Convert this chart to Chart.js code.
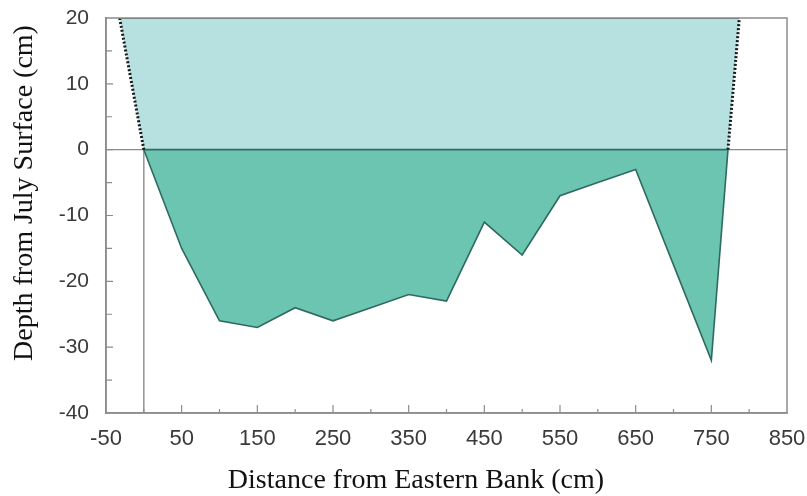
<!DOCTYPE html>
<html>
<head>
<meta charset="utf-8">
<script src="https://cdn.jsdelivr.net/npm/chart.js@4/dist/chart.umd.min.js"></script>
<style>
  html, body { margin: 0; padding: 0; background: #ffffff; }
  #wrap { width: 807px; height: 496px; }
</style>
</head>
<body>
<div id="wrap"><canvas id="c" width="807" height="496"></canvas></div>
<script>
// Stream cross-section: bed profile and July water surface
const bedDistance = [0, 50, 100, 150, 200, 250, 300, 350, 400, 450, 500, 550, 600, 650, 700, 750, 772];
const bedDepth    = [0, -15, -26, -27, -24, -26, -24, -22, -23, -11, -16, -7, -5, -3, -17.5, -32, 0];

// Water surface envelope (banks sloping up to the +20 cm level)
const surfaceDistance = [-32, 0, 772, 787];
const surfaceDepth    = [20, 0, 0, 20];

const xTickValues = [-50, 50, 150, 250, 350, 450, 550, 650, 750, 850];
const yTickValues = [-40, -30, -20, -10, 0, 10, 20];

const xTitle = 'Distance from Eastern Bank (cm)';
const yTitle = 'Depth from July Surface (cm)';

const toPoints = (xs, ys) => xs.map((x, i) => ({ x: x, y: ys[i] }));
const pick = (idx) => toPoints(idx.map(i => surfaceDistance[i]), idx.map(i => surfaceDepth[i]));
const last = surfaceDistance.length - 1;

// Reference lines at distance 0 and depth 0
const zeroDepthLine = toPoints([xTickValues[0], xTickValues[xTickValues.length - 1]], [0, 0]);
const zeroDistanceLine = toPoints([0, 0], [yTickValues[0], 0]);

const AXIS_GREY = '#8c8c8c';

const lineSet = (data, color, width, dash, order) => ({
  data: data,
  fill: false,
  borderColor: color,
  borderWidth: width,
  borderDash: dash,
  pointRadius: 0,
  tension: 0,
  order: order
});

// Frame, inward ticks and axis titles
const framePlugin = {
  id: 'frame',
  afterDraw(chart) {
    const { ctx, chartArea: a, scales } = chart;
    const xs = scales.x, ys = scales.y;
    ctx.save();
    ctx.strokeStyle = AXIS_GREY;
    ctx.lineWidth = 1.5;
    ctx.strokeRect(a.left, a.top, a.right - a.left, a.bottom - a.top);

    ctx.lineWidth = 1.2;
    ctx.beginPath();
    // x axis: major at labelled values, minor halfway between them
    for (let i = 0; i < xTickValues.length; i++) {
      const px = xs.getPixelForValue(xTickValues[i]);
      if (i > 0 && i < xTickValues.length - 1) {
        ctx.moveTo(px, a.bottom); ctx.lineTo(px, a.bottom - 8);
      }
      if (i < xTickValues.length - 1) {
        const mx = xs.getPixelForValue((xTickValues[i] + xTickValues[i + 1]) / 2);
        ctx.moveTo(mx, a.bottom); ctx.lineTo(mx, a.bottom - 4);
      }
    }
    // y axis
    for (let i = 0; i < yTickValues.length; i++) {
      const py = ys.getPixelForValue(yTickValues[i]);
      if (i > 0 && i < yTickValues.length - 1) {
        ctx.moveTo(a.left, py); ctx.lineTo(a.left + 7, py);
      }
      if (i < yTickValues.length - 1) {
        const my = ys.getPixelForValue((yTickValues[i] + yTickValues[i + 1]) / 2);
        ctx.moveTo(a.left, my); ctx.lineTo(a.left + 6, my);
      }
    }
    ctx.stroke();

    // axis titles
    ctx.fillStyle = '#111111';
    ctx.font = '28px "Liberation Serif", "Times New Roman", serif';
    ctx.textAlign = 'center';
    ctx.textBaseline = 'middle';
    ctx.fillText(xTitle, 416, 481);
    ctx.translate(25, 193);
    ctx.rotate(-Math.PI / 2);
    ctx.fillText(yTitle, 0, 0);
    ctx.restore();
  }
};

new Chart(document.getElementById('c'), {
  type: 'line',
  data: {
    datasets: [
      // water surface line at the top
      lineSet(pick([0, last]), '#3c6966', 2, [], 0),
      // sloping banks above the water line (dotted)
      lineSet(pick([0, 1]), '#1a1a1a', 3, [2, 2], 0),
      lineSet(pick([last - 1, last]), '#1a1a1a', 3, [2, 2], 0),
      // boundary between water column and bed
      lineSet(pick([1, last - 1]), '#2b6f64', 1.8, [], 0),
      {
        // water column, filled up to +20
        data: toPoints(surfaceDistance, surfaceDepth),
        fill: { value: 20 },
        backgroundColor: '#b7e0e1',
        borderWidth: 0,
        pointRadius: 0,
        tension: 0,
        order: 1
      },
      {
        // stream bed
        data: toPoints(bedDistance, bedDepth),
        fill: 'origin',
        backgroundColor: '#6cc5b1',
        borderColor: '#2e6a60',
        borderWidth: 1.6,
        pointRadius: 0,
        tension: 0,
        order: 2
      },
      lineSet(zeroDepthLine, AXIS_GREY, 1.4, [], 5),
      lineSet(zeroDistanceLine, AXIS_GREY, 1.4, [], 5)
    ]
  },
  options: {
    responsive: false,
    animation: false,
    devicePixelRatio: 1,
    layout: { padding: { top: 18, right: 20, left: 0, bottom: 0 } },
    plugins: {
      legend: { display: false },
      tooltip: { enabled: false },
      filler: { propagate: false }
    },
    scales: {
      x: {
        type: 'linear',
        min: xTickValues[0],
        max: xTickValues[xTickValues.length - 1],
        afterBuildTicks: s => { s.ticks = xTickValues.map(v => ({ value: v })); },
        afterFit: s => { s.height = 83; s.paddingLeft = 0; s.paddingRight = 0; },
        grid: { display: false, drawTicks: false },
        border: { display: true, color: AXIS_GREY, width: 1.5 },
        ticks: {
          autoSkip: false,
          maxRotation: 0,
          padding: 13,
          color: '#3a3a3a',
          font: { family: '"Liberation Sans", Arial, sans-serif', size: 22 }
        }
      },
      y: {
        type: 'linear',
        min: yTickValues[0],
        max: yTickValues[yTickValues.length - 1],
        afterBuildTicks: s => { s.ticks = yTickValues.map(v => ({ value: v })); },
        afterFit: s => { s.width = 106; s.paddingTop = 0; s.paddingBottom = 0; },
        grid: { display: false, drawTicks: false },
        border: { display: true, color: AXIS_GREY, width: 1.5 },
        ticks: {
          padding: 17,
          color: '#3a3a3a',
          font: { family: '"Liberation Sans", Arial, sans-serif', size: 21 }
        }
      }
    }
  },
  plugins: [framePlugin]
});
</script>
</body>
</html>
